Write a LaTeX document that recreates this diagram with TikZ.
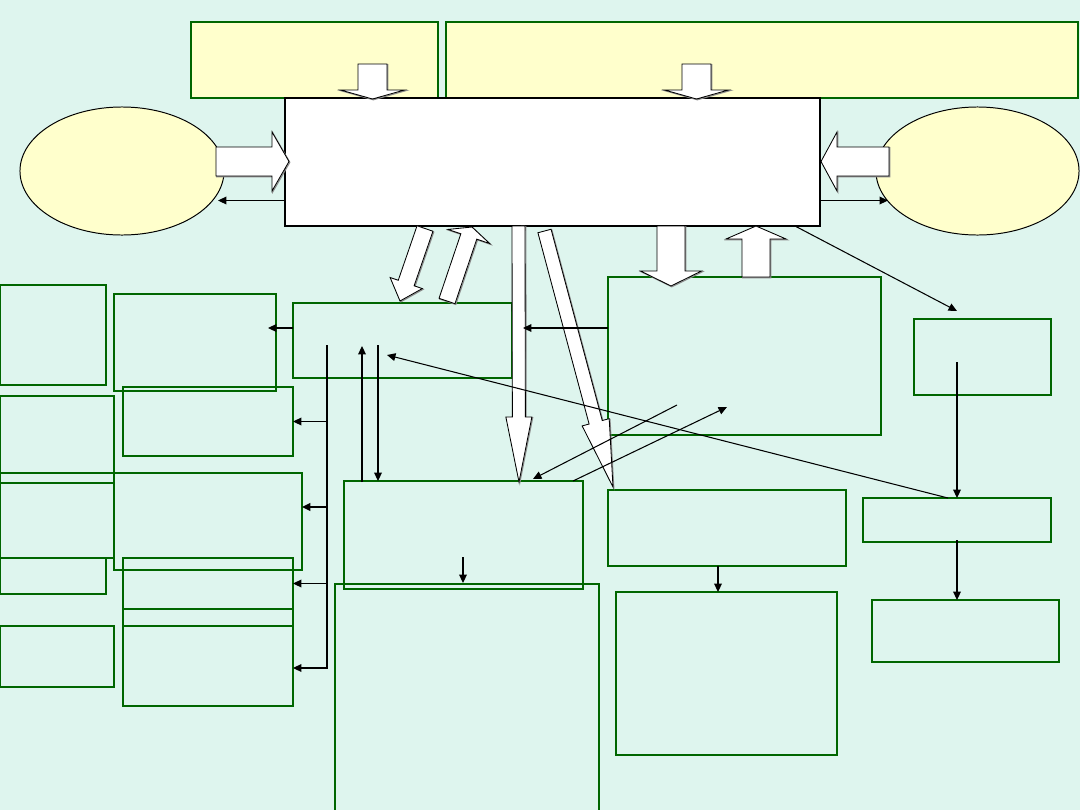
\documentclass[tikz,border=0pt]{standalone}
\usetikzlibrary{arrows.meta,fit,shapes.geometric}
\definecolor{bgc}{RGB}{222,245,238}
\definecolor{yel}{RGB}{255,255,204}
\definecolor{dg}{RGB}{0,102,0}
\tikzset{
 gbox/.style={draw=dg, line width=0.9pt, inner sep=0pt, outer sep=0pt},
 ybox/.style={gbox, fill=yel},
 wbox/.style={draw=black, fill=white, line width=0.8pt, inner sep=0pt, outer sep=0pt},
 ell/.style={draw=black, fill=yel, line width=0.7pt, ellipse, inner sep=0pt},
 conn/.style={draw=black, line width=0.75pt, -{Triangle[length=6pt,width=5.5pt]}},
 barr/.style={fill=white, draw=black, line width=0.6pt, line join=miter},
 bshadow/.style={draw=black!45, line width=0.8pt, line join=miter},
 thickg/.style={draw=dg, line width=1.8pt},
}
\newcommand\boxat[6]{\node[#6, fit={(#2,#3) (#4,#5)}] (#1) {};}
\newcommand\barrowdraw[8]{%
 \pgfmathsetmacro\bdx{#4-#2}\pgfmathsetmacro\bdy{#5-#3}%
 \pgfmathsetmacro\bL{veclen(\bdx,\bdy)}%
 \pgfmathsetmacro\bux{\bdx/\bL}\pgfmathsetmacro\buy{\bdy/\bL}%
 \pgfmathsetmacro\bbx{#4-#8*\bux}\pgfmathsetmacro\bby{#5-#8*\buy}%
 \path[#1] ({#2-#6*\buy},{#3+#6*\bux}) -- ({\bbx-#6*\buy},{\bby+#6*\bux}) -- ({\bbx-#7*\buy},{\bby+#7*\bux}) -- (#4,#5) -- ({\bbx+#7*\buy},{\bby-#7*\bux}) -- ({\bbx+#6*\buy},{\bby-#6*\bux}) -- ({#2+#6*\buy},{#3-#6*\bux}) -- cycle;}
\newcommand\blockarrow[7]{%
 \barrowdraw{bshadow,shift={(0.8,0.8)}}{#1}{#2}{#3}{#4}{#5}{#6}{#7}%
 \barrowdraw{barr}{#1}{#2}{#3}{#4}{#5}{#6}{#7}}
\begin{document}
\begin{tikzpicture}[x=0.025cm,y=-0.025cm]
\fill[bgc] (0,0) rectangle (1080,810);
\useasboundingbox (0,0) rectangle (1080,810);
% ellipses
\node[ell, minimum width=5.1cm, minimum height=3.2cm] (le) at (122,171) {};
\node[ell, minimum width=5.075cm, minimum height=3.2cm] (re) at (977.5,171) {};
% top boxes and main box
\boxat{tl}{191}{22}{438}{98}{ybox}
\boxat{tr}{446}{22}{1078}{98}{ybox}
\draw[thickg] (tl.north east) -- (tl.south east);
\boxat{main}{285}{98}{820}{226}{wbox}
% green boxes
\boxat{B}{293}{303}{512}{378}{gbox}
\draw[thickg] (B.north west) -- (B.north east);
\boxat{C}{608}{277}{881}{435}{gbox}
\draw[thickg] (C.south west) -- (C.south east);
\boxat{D}{914}{319}{1051}{395}{gbox}
\boxat{E}{863}{498}{1051}{542}{gbox}
\boxat{F}{872}{600}{1059}{662}{gbox}
\draw[thickg] (F.south west) -- (F.south east);
\boxat{G}{608}{490}{846}{566}{gbox, line width=1.4pt}
\boxat{H}{616}{592}{837}{755}{gbox}
\draw[thickg] (H.north west) -- (H.north east);
\boxat{I}{344}{481}{583}{589}{gbox}
\boxat{J}{335}{584}{599}{816}{gbox}
\boxat{L1}{0}{285}{106}{385}{gbox}
\boxat{L2}{114}{294}{276}{391}{gbox}
\boxat{L3}{123}{387}{293}{456}{gbox}
\boxat{L4}{0}{396}{114}{483}{gbox}
\boxat{L5}{0}{473}{114}{558}{gbox}
\boxat{L6}{114}{473}{302}{570}{gbox}
\draw[thickg] (L6.north east) -- (L6.south east);
\boxat{L7}{0}{558}{106}{594}{gbox}
\draw[thickg] (L7.north west) -- (L7.north east);
\boxat{L8a}{123}{558}{293}{609}{gbox}
\draw[thickg] (L8a.north west) -- (L8a.north east);
\boxat{L8b}{123}{609}{293}{626}{gbox}
\boxat{L8c}{123}{626}{293}{706}{gbox}
\boxat{L9}{0}{626}{114}{687}{gbox}
\draw[thickg] (L9.north west) -- (L9.north east);
% block arrows
\blockarrow{372.5}{64}{372.5}{99}{14.5}{32}{9}
\blockarrow{696.5}{64}{696.5}{99}{14.5}{32}{9}
\blockarrow{216}{161.5}{289}{161.5}{14.5}{29.5}{17}
\blockarrow{889}{161.5}{821}{161.5}{14.5}{29.5}{16}
\blockarrow{425}{228.5}{400}{301}{8.4}{17}{19}
\blockarrow{447}{301}{472}{227}{8.4}{22}{10}
\blockarrow{518.5}{226}{519}{482}{6.5}{13}{65}
\blockarrow{544.5}{231}{613}{487}{6.8}{14}{67}
\blockarrow{671}{226}{671}{286}{14}{30.5}{15}
\blockarrow{756}{277}{756}{226}{14}{30}{13}
% connectors
\coordinate (m1) at (285,200.5); \coordinate (le1) at (218,200.5);
\coordinate (m2) at (820,200.5); \coordinate (re1) at (888,200.5);
\coordinate (m3) at (795,226); \coordinate (d1) at (957,311);
\coordinate (b1) at (293,328); \coordinate (l2a) at (268,328);
\coordinate (c1) at (608,328); \coordinate (ar1) at (523,328);
\coordinate (t0) at (327,345); \coordinate (t2) at (327,507); \coordinate (t4) at (327,668);
\coordinate (u0) at (362,482); \coordinate (u1) at (362,346);
\coordinate (v0) at (378,345); \coordinate (v1) at (378,481);
\coordinate (e1) at (948,498); \coordinate (b2) at (387,355);
\coordinate (c2) at (677,405); \coordinate (i1) at (533,479);
\coordinate (i2) at (573,481); \coordinate (c3) at (727,407);
\coordinate (d2) at (957,362); \coordinate (e2) at (957,540);
\coordinate (g1) at (718,566); \coordinate (i3) at (463,557); \coordinate (i4) at (463,583);
\draw[conn] (m1) -- (le1);
\draw[conn] (m2) -- (re1);
\draw[conn] (m3) -- (d1);
\draw[conn] (b1) -- (l2a);
\draw[conn] (c1) -- (ar1);
\draw[conn] (t0) -- (t4) -- (L8c.east |- t4);
\draw[conn] (t0 |- L3.east) -- (L3.east);
\draw[conn, line width=1.5pt] (t2) -- (L6.east |- t2);
\draw[conn] (t0 |- L8a.east) -- (L8a.east);
\draw[conn] (u0) -- (u1);
\draw[conn] (v0) -- (v1);
\draw[conn] (e1) -- (b2);
\draw[conn] (c2) -- (i1);
\draw[conn] (i2) -- (c3);
\draw[conn] (d2) -- (E.north -| d2);
\draw[conn] (e2) -- (F.north -| e2);
\draw[conn] (g1) -- (H.north -| g1);
\draw[conn] (i3) -- (i4);
\end{tikzpicture}
\end{document}
